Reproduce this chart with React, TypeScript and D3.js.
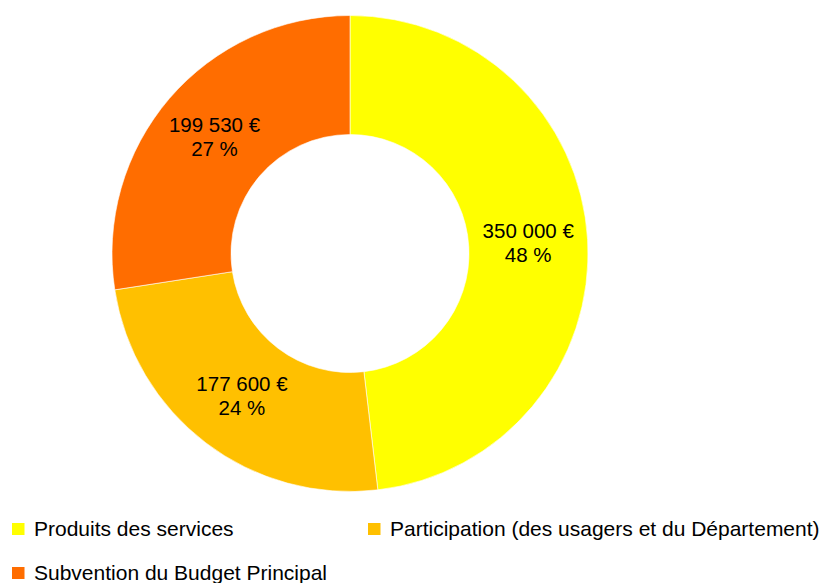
import React from "react";
import * as d3 from "d3";

const categories = ["Produits des services", "Participation (des usagers et du Département)", "Subvention du Budget Principal"];
const values = [350000, 177600, 199530];
const colors = ["#FFFF00", "#FFC000", "#FF6D00"];

const W = 820, H = 583;
const cx = 350, cy = 253.5, rOut = 238, rIn = 119;

function fmt(v: number) {
  return d3.format(",")(v).replace(/,/g, " ") + " €";
}

export default function App() {
  const total = d3.sum(values);
  const pie = d3.pie<number>().sort(null).value((d) => d)(values);
  const arc = d3.arc<d3.PieArcDatum<number>>().innerRadius(rIn).outerRadius(rOut);
  const labelR = (rIn + rOut) / 2;
  const font = "'Liberation Sans', Arial, sans-serif";
  const fs = 20.5;
  const lfs = 21;
  const legend = [
    { x: 12, y: 523 },
    { x: 368, y: 523 },
    { x: 12, y: 567 },
  ];
  return (
    <svg width={W} height={H} style={{ position: "absolute", left: 0, top: 0, background: "#fff" }} fontFamily={font}>
      <g transform={`translate(${cx},${cy})`}>
        {pie.map((p, i) => (
          <path key={i} d={arc(p) || ""} fill={colors[i]} stroke="#fff" strokeWidth={0.6} />
        ))}
        {pie.map((p, i) => {
          const a = (p.startAngle + p.endAngle) / 2;
          const x = labelR * Math.sin(a);
          const y = -labelR * Math.cos(a);
          return (
            <text key={"l" + i} x={x} y={y} textAnchor="middle" fontSize={fs} fill="#000">
              <tspan x={x} dy={-5}>{fmt(values[i])}</tspan>
              <tspan x={x} dy={24}>{Math.round((values[i] / total) * 100) + " %"}</tspan>
            </text>
          );
        })}
      </g>
      {categories.map((c, i) => (
        <g key={"lg" + i} transform={`translate(${legend[i].x},${legend[i].y})`}>
          <rect x={0} y={0} width={12.5} height={12} fill={colors[i]} />
          <text x={22} y={13} fontSize={lfs} fill="#000">{c}</text>
        </g>
      ))}
    </svg>
  );
}
